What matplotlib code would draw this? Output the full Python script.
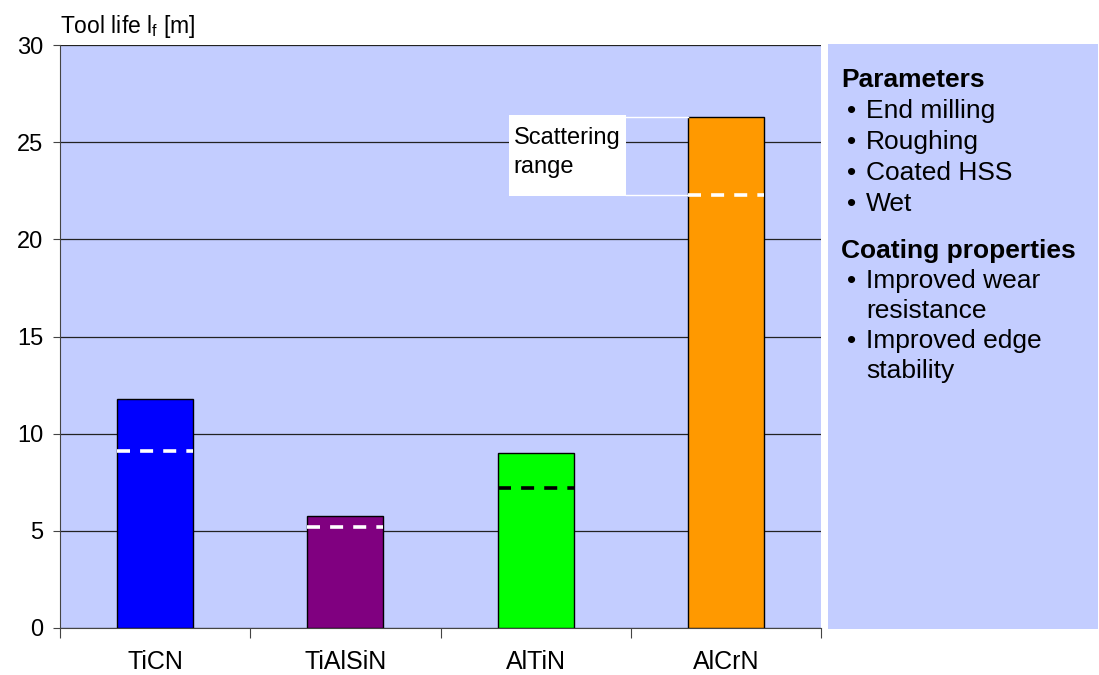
import matplotlib
matplotlib.use('Agg')
from matplotlib import pyplot as plt
from matplotlib.patches import Rectangle

plt.rcParams['font.family'] = ['Liberation Sans', 'DejaVu Sans']

coatings = ['TiCN', 'TiAlSiN', 'AlTiN', 'AlCrN']
tool_life = [11.8, 5.75, 9.0, 26.3]
tool_life_min = [9.1, 5.2, 7.2, 22.3]
bar_colors = ['#0000FF', '#800080', '#00FF00', '#FF9900']
dash_colors = ['white', 'white', 'black', 'white']

parameters = ['End milling', 'Roughing', 'Coated HSS', 'Wet']
properties = [['Improved wear', 'resistance'], ['Improved edge', 'stability']]

bg = '#C3CDFF'

fig = plt.figure(figsize=(10.99, 6.75), dpi=100)
ax = fig.add_axes([60 / 1099, 47 / 675, 761 / 1099, 583 / 675])
ax.set_facecolor(bg)

x = list(range(len(coatings)))
w = 0.4
ax.bar(x, tool_life, width=w, color=bar_colors, edgecolor='black', linewidth=1, zorder=3)

# lower end of the scatter band
for i, (lo, c) in enumerate(zip(tool_life_min, dash_colors)):
    ax.plot([i - w / 2, i + w / 2], [lo, lo], color=c, lw=2.6,
            dashes=(3.6, 2.8), zorder=4, solid_capstyle='butt')

ax.set_xlim(-0.5, 3.5)
ax.set_ylim(0, 30)
ax.set_yticks(range(0, 31, 5))
ax.yaxis.grid(True, color='#222222', lw=0.9, zorder=0)
ax.set_axisbelow(True)

ax.set_xticks([-0.5, 0.5, 1.5, 2.5, 3.5])
ax.set_xticklabels([])
ax.set_xticks(x, minor=True)
ax.set_xticklabels(coatings, minor=True, fontsize=18)
ax.tick_params(axis='x', which='major', length=7, color='#444444')
ax.tick_params(axis='x', which='minor', length=0, pad=16)
ax.tick_params(axis='y', length=5, labelsize=17, color='#444444', pad=7)

for s in ['top', 'right']:
    ax.spines[s].set_visible(False)
ax.spines['left'].set_color('#444444')
ax.spines['bottom'].set_color('#444444')

ax.text(0, 1.008, 'Tool life l$_{\\mathregular{f}}$ [m]', transform=ax.transAxes,
        fontsize=16.5, ha='left', va='bottom')

# scattering range note on the AlCrN bar
i = 3
hi, lo = tool_life[i], tool_life_min[i]
bx0, bx1 = 1.86, 2.475
ax.add_patch(Rectangle((bx0, lo - 0.05), bx1 - bx0, hi - lo + 0.15,
                       facecolor='white', edgecolor='none', zorder=5))
ax.plot([bx1, i - w / 2], [hi, hi], color='white', lw=1, zorder=5)
ax.plot([bx1, i - w / 2], [lo, lo], color='white', lw=1, zorder=5)
ax.text(bx0 + 0.025, hi - 0.5, 'Scattering\nrange', fontsize=17, va='top',
        ha='left', linespacing=1.45, zorder=6)

# side panel
fig.patches.append(Rectangle((828 / 1099, 46 / 675), 270 / 1099, 585 / 675,
                             transform=fig.transFigure, facecolor=bg,
                             edgecolor='none', zorder=0))

fs = 19
px = 841 / 1099
bx = 847 / 1099
tx = 866 / 1099


def row(y_px):
    return 1 - y_px / 675


y = 80
fig.text(px, row(y), 'Parameters', fontsize=fs, fontweight='bold', va='center')
for p in parameters:
    y += 31
    fig.text(bx, row(y), '\u2022', fontsize=fs, va='center')
    fig.text(tx, row(y), p, fontsize=fs, va='center')
y += 47
fig.text(px, row(y), 'Coating properties', fontsize=fs, fontweight='bold', va='center')
for lines in properties:
    y += 30
    fig.text(bx, row(y), '\u2022', fontsize=fs, va='center')
    for k, ln in enumerate(lines):
        if k:
            y += 30
        fig.text(tx, row(y), ln, fontsize=fs, va='center')

plt.savefig('out.png', dpi=100)
